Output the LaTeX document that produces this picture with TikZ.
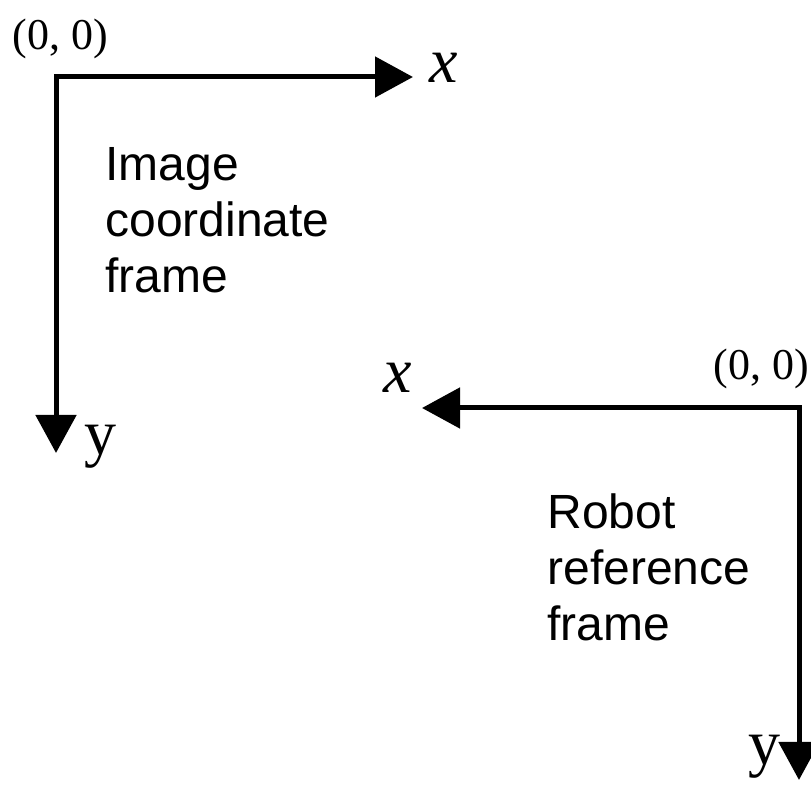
\documentclass[tikz,border=0pt]{standalone}
\usepackage{fontspec}
\setmainfont{Liberation Serif}
\setsansfont{Liberation Sans}
\usepackage{tikz}
\usetikzlibrary{
  arrows.meta,
  positioning
}

\begin{document}
\begin{tikzpicture}[
      x=0.5pt,y=-0.5pt,
      frame/.style={
         line width=2.5pt,
         line join=miter,
         {Triangle[length=19pt,width=20pt]}-{Triangle[length=19pt,width=20pt]}
      },
      caption/.style={
         font=\sffamily\fontsize{24}{28}\selectfont,
         align=left,
         anchor=north west,
         inner sep=0pt
      },
      axislabel/.style={
         font=\fontsize{32}{32}\selectfont,
         anchor=base,
         inner sep=0pt
      },
      origin/.style={
         font=\fontsize{22}{22}\selectfont,
         anchor=base west,
         inner sep=0pt
      }
    ]
    \useasboundingbox (0,0) rectangle (811,785);
    % image frame, origin top left
    \coordinate (oA) at (56,77);
    \coordinate (xA) at (413,77);
    \coordinate (yA) at (56,453);
    % robot frame, origin top right
    \coordinate (oB) at (799,408);
    \coordinate (xB) at (422,408);
    \coordinate (yB) at (799,780);

    \draw[frame] (yA) |- (xA);
    \draw[frame] (xB) -| (yB);

    \node (origA) [origin] at (12,50) {(0, 0)};
    \node (xlabA) [axislabel] at (444,83) {\itshape x};
    \node (ylabA) [axislabel] at (100,455) {y};
    \node (capA) [caption] at (105,147) {Image\\coordinate\\frame};

    \node (origB) [origin] at (713,380) {(0, 0)};
    \node (xlabB) [axislabel] at (398,393) {\itshape x};
    \node (ylabB) [axislabel] at (764,765) {y};
    \node (capB) [caption] at (547,493) {Robot\\reference\\frame};
\end{tikzpicture}
\end{document}
